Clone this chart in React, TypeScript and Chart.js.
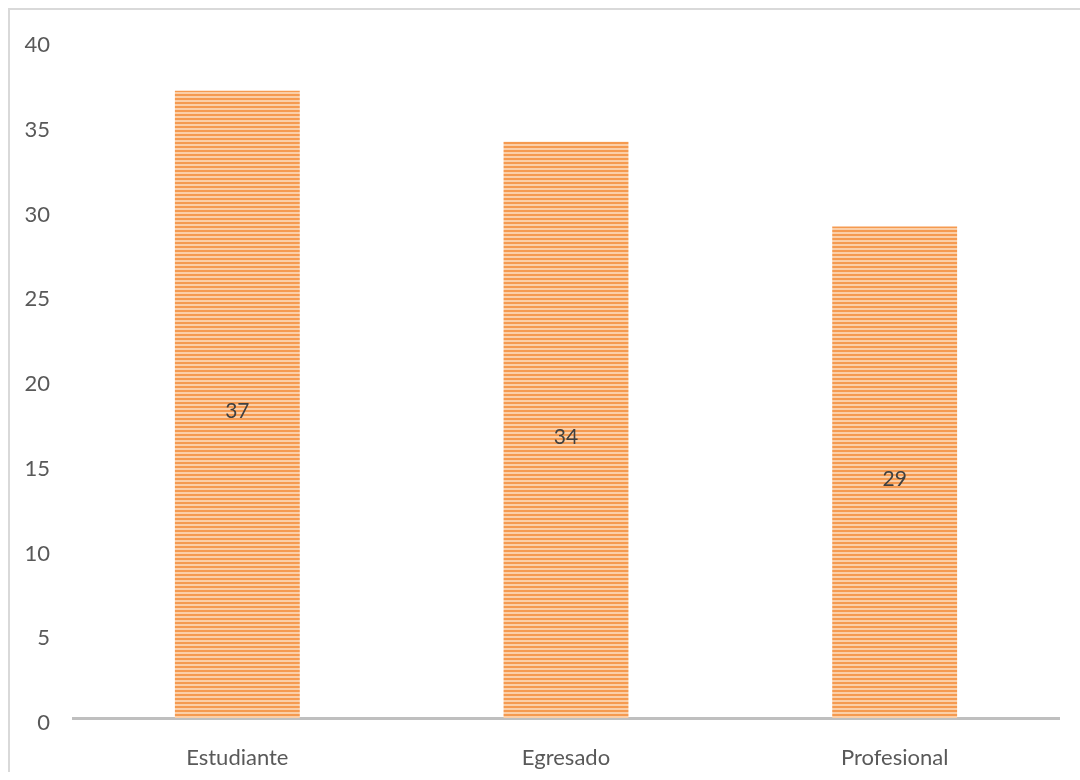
import React, { useEffect, useRef } from "react";
import { Chart, registerables } from "chart.js";

Chart.register(...registerables);

const categories = ["Estudiante", "Egresado", "Profesional"];
const values = [37, 34, 29];
const yTicks = [0, 5, 10, 15, 20, 25, 30, 35, 40];

function makePattern(): CanvasPattern | string {
  const c = document.createElement("canvas");
  c.width = 8;
  c.height = 4;
  const g = c.getContext("2d");
  if (!g) return "#f8ae72";
  g.fillStyle = "#fbcfa8";
  g.fillRect(0, 0, 8, 4);
  g.fillStyle = "#f59a50";
  g.fillRect(0, 0, 8, 2);
  const p = g.createPattern(c, "repeat");
  return p || "#f8ae72";
}

const valueLabels = {
  id: "valueLabels",
  afterDatasetsDraw(chart: any) {
    const ctx = chart.ctx;
    const meta = chart.getDatasetMeta(0);
    ctx.save();
    ctx.fillStyle = "#404040";
    ctx.font = "21px Lato, 'Open Sans', sans-serif";
    ctx.textAlign = "center";
    ctx.textBaseline = "middle";
    meta.data.forEach((bar: any, i: number) => {
      const v = chart.data.datasets[0].data[i];
      const y = (bar.y + bar.base) / 2 + 7;
      ctx.fillText(String(v), bar.x, y);
    });
    ctx.restore();
  },
};

export default function App() {
  const ref = useRef<HTMLCanvasElement | null>(null);
  useEffect(() => {
    if (!ref.current) return;
    const chart = new Chart(ref.current, {
      type: "bar",
      data: {
        labels: categories,
        datasets: [
          {
            data: values,
            backgroundColor: makePattern() as any,
            borderWidth: 0,
            categoryPercentage: 1,
            barPercentage: 0.38,
          },
        ],
      },
      options: {
        animation: false,
        responsive: true,
        maintainAspectRatio: false,
        layout: { padding: { top: 30, right: 29, left: 0, bottom: 0 } },
        plugins: { legend: { display: false }, tooltip: { enabled: false } },
        scales: {
          x: {
            grid: { display: false, drawTicks: false },
            border: { display: true, color: "#bfbfbf", width: 3 },
            ticks: {
              color: "#595959",
              font: { family: "Lato, 'Open Sans', sans-serif", size: 22 },
              padding: 27,
            },
            afterFit(scale: any) {
              scale.height = 54;
              scale.paddingLeft = 0;
              scale.paddingRight = 0;
            },
          },
          y: {
            min: 0,
            max: 40,
            grid: { display: false, drawTicks: false },
            border: { display: false },
            afterBuildTicks(scale: any) {
              scale.ticks = yTicks.map((v) => ({ value: v }));
            },
            ticks: {
              color: "#595959",
              font: { family: "Lato, 'Open Sans', sans-serif", size: 22 },
              padding: 23,
              labelOffset: 5,
            },
            afterFit(scale: any) {
              scale.width = 63;
              scale.paddingTop = 0;
              scale.paddingBottom = 0;
            },
          },
        },
      },
      plugins: [valueLabels],
    });
    return () => chart.destroy();
  }, []);
  return (
    <div
      style={{
        position: "absolute",
        left: 0,
        top: 0,
        width: 1080,
        height: 780,
        overflow: "hidden",
        background: "#fff",
      }}
    >
      <div
        style={{
          position: "absolute",
          left: 8,
          top: 8,
          width: 1078,
          height: 762,
          borderTop: "2px solid #d9d9d9",
          borderLeft: "2px solid #d9d9d9",
        }}
      >
        <canvas ref={ref} />
      </div>
    </div>
  );
}
